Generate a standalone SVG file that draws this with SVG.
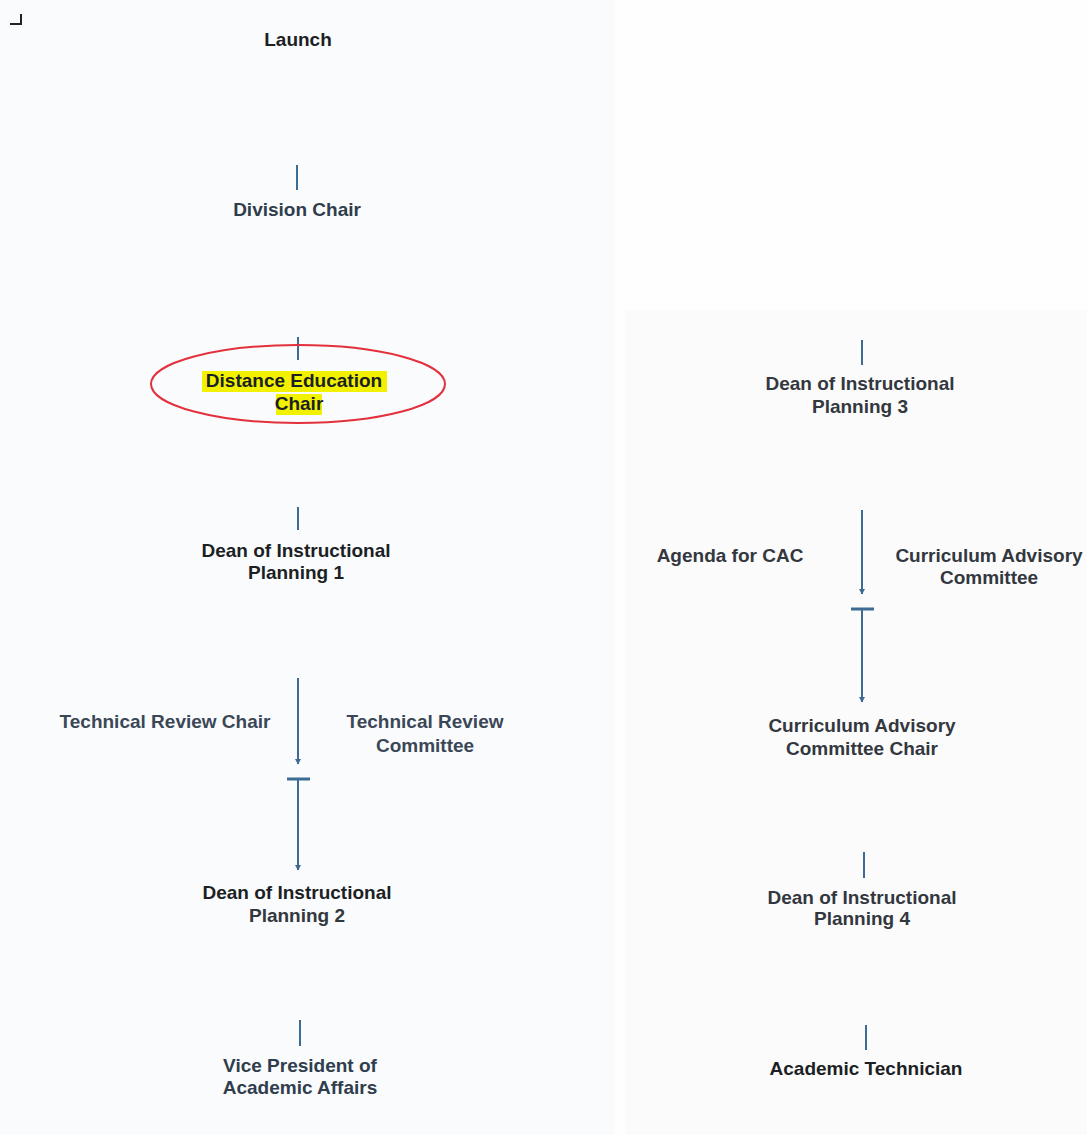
<svg xmlns="http://www.w3.org/2000/svg" width="1087" height="1135" viewBox="0 0 1087 1135">
<defs>
<style>
text{font-family:"Liberation Sans",Arial,sans-serif;font-weight:bold;font-size:19px;text-anchor:middle}
.dk{fill:#1c1f24}
.sl{fill:#2f3d4c}
.bg{fill:#3a4757}
.gr{fill:#33373e}
.conn line{stroke:#3d6b93;stroke-width:2;fill:none}
.conn .bar{stroke-width:3}
.hl{fill:#f2f200}
</style>
<marker id="tipd" viewBox="0 0 8 8" refX="4" refY="7" markerWidth="8" markerHeight="8" markerUnits="userSpaceOnUse">
<path d="M1,2 L4,7.5 L7,2 Z" fill="#3d6b93"/>
</marker>
</defs>
<rect width="1087" height="1135" fill="#fefefe"/>
<rect x="0" y="0" width="615" height="1135" fill="#fafbfc"/>
<rect x="625" y="310" width="462" height="825" fill="#fbfbfc"/>
<path d="M10,24 H21 V14" fill="none" stroke="#222" stroke-width="2"/>

<g id="connectors" class="conn">
<line x1="297" y1="165" x2="297" y2="190"/>
<line x1="298" y1="337" x2="298" y2="360"/>
<line x1="298" y1="507" x2="298" y2="530"/>
<line x1="298" y1="678" x2="298" y2="764" marker-end="url(#tipd)"/>
<line class="bar" x1="287" y1="779" x2="310" y2="779"/>
<line x1="298" y1="779" x2="298" y2="870" marker-end="url(#tipd)"/>
<line x1="300" y1="1020" x2="300" y2="1046"/>
<line x1="862" y1="340" x2="862" y2="365"/>
<line x1="862" y1="510" x2="862" y2="594" marker-end="url(#tipd)"/>
<line class="bar" x1="851" y1="609" x2="874" y2="609"/>
<line x1="862" y1="609" x2="862" y2="702" marker-end="url(#tipd)"/>
<line x1="864" y1="852" x2="864" y2="878"/>
<line x1="866" y1="1025" x2="866" y2="1050"/>
</g>

<g id="launch"><text class="dk" x="298" y="46">Launch</text></g>
<g id="division-chair"><text class="sl" x="297" y="216">Division Chair</text></g>
<g id="distance-education-chair">
<ellipse cx="298" cy="384" rx="147" ry="39" fill="none" stroke="#e2313d" stroke-width="2"/>
<rect class="hl" x="202" y="371" width="185" height="21"/>
<rect class="hl" x="276" y="394" width="46" height="21"/>
<text class="dk" x="294" y="387">Distance Education</text>
<text class="dk" x="299" y="410">Chair</text>
</g>
<g id="dean1"><text class="dk" x="296" y="557">Dean of Instructional</text><text class="dk" x="296" y="579">Planning 1</text></g>
<g id="tech-review-chair"><text class="bg" x="165" y="728">Technical Review Chair</text></g>
<g id="tech-review-committee"><text class="bg" x="425" y="728">Technical Review</text><text class="bg" x="425" y="752">Committee</text></g>
<g id="dean2"><text class="dk" x="297" y="899">Dean of Instructional</text><text class="gr" x="297" y="922">Planning 2</text></g>
<g id="vpaa"><text class="sl" x="300" y="1072">Vice President of</text><text class="sl" x="300" y="1094">Academic Affairs</text></g>

<g id="dean3"><text class="gr" x="860" y="390">Dean of Instructional</text><text class="gr" x="860" y="413">Planning 3</text></g>
<g id="agenda-cac"><text class="gr" x="730" y="562">Agenda for CAC</text></g>
<g id="cac"><text class="gr" x="989" y="562">Curriculum Advisory</text><text class="gr" x="989" y="584">Committee</text></g>
<g id="cac-chair"><text class="gr" x="862" y="732">Curriculum Advisory</text><text class="gr" x="862" y="755">Committee Chair</text></g>
<g id="dean4"><text class="gr" x="862" y="904">Dean of Instructional</text><text class="gr" x="862" y="925">Planning 4</text></g>
<g id="academic-technician"><text class="dk" x="866" y="1075">Academic Technician</text></g>
</svg>
